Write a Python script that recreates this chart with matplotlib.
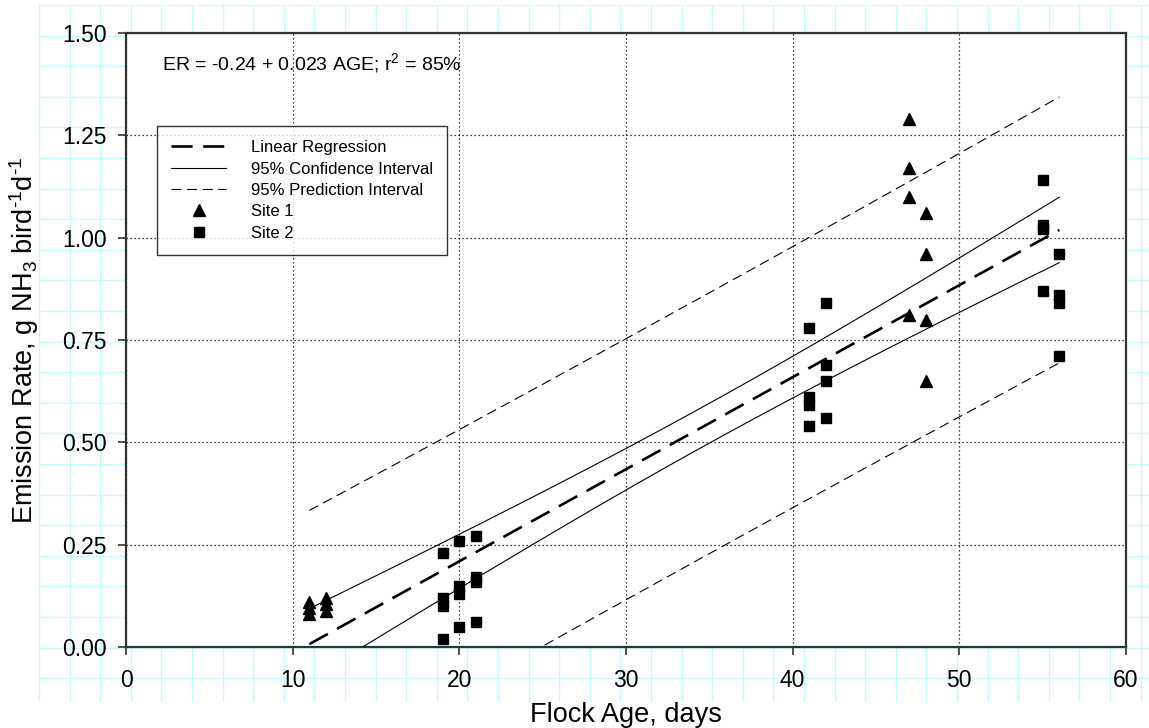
import numpy as np
import matplotlib
matplotlib.use('Agg')
import matplotlib.pyplot as plt

plt.rcParams['font.family'] = ['Liberation Sans', 'DejaVu Sans']
plt.rcParams['mathtext.fontset'] = 'custom'
plt.rcParams['mathtext.rm'] = 'Liberation Sans'
plt.rcParams['mathtext.it'] = 'Liberation Sans:italic'
plt.rcParams['mathtext.bf'] = 'Liberation Sans:bold'

# Site 1 (triangles): flock age, emission rate
site1_age = [11, 11, 11, 12, 12, 12,
             47, 47, 47, 47, 48, 48, 48, 48]
site1_er = [0.081, 0.095, 0.110, 0.088, 0.105, 0.120,
            1.29, 1.17, 1.10, 0.81, 1.06, 0.96, 0.80, 0.65]

# Site 2 (squares)
site2_age = [19, 19, 19, 19, 20, 20, 20, 20, 21, 21, 21, 21,
             41, 41, 41, 41, 42, 42, 42, 42,
             55, 55, 55, 55, 56, 56, 56, 56]
site2_er = [0.23, 0.12, 0.10, 0.02, 0.26, 0.15, 0.13, 0.05, 0.27, 0.17, 0.16, 0.06,
            0.78, 0.61, 0.59, 0.54, 0.84, 0.69, 0.65, 0.56,
            1.14, 1.03, 1.02, 0.87, 0.96, 0.86, 0.84, 0.71]

x_ticks = [0, 10, 20, 30, 40, 50, 60]
y_ticks = [0.00, 0.25, 0.50, 0.75, 1.00, 1.25, 1.50]

# regression with 95% confidence / prediction bands, computed from the points
x_all = np.array(site1_age + site2_age, dtype=float)
y_all = np.array(site1_er + site2_er)
n = len(x_all)
b1, b0 = np.polyfit(x_all, y_all, 1)
s = np.sqrt(np.sum((y_all - (b0 + b1 * x_all)) ** 2) / (n - 2))
xbar = x_all.mean()
sxx = np.sum((x_all - xbar) ** 2)
t_val = 2.021
xs = np.linspace(x_all.min(), x_all.max(), 200)
fit = b0 + b1 * xs
ci = t_val * s * np.sqrt(1.0 / n + (xs - xbar) ** 2 / sxx)
pi = t_val * s * np.sqrt(1.0 + 1.0 / n + (xs - xbar) ** 2 / sxx)

W, H = 1149, 728
fig = plt.figure(figsize=(W / 100, H / 100), dpi=100)

# page grid behind everything (light cyan)
bg = fig.add_axes([39 / W, 1 - 702 / H, (W - 39) / W, (702 - 5) / H], zorder=0)
bg.set_xlim(0, W - 39)
bg.set_ylim(702 - 5, 0)
bg.set_xticks(np.arange(0, W - 39 + 1, 30.6))
bg.set_yticks(np.arange(0, 702 - 5 + 1, 30.6))
bg.grid(True, color='#c4fafa', linewidth=1.0)
bg.tick_params(length=0, labelbottom=False, labelleft=False)
for sp in bg.spines.values():
    sp.set_visible(False)
bg.patch.set_alpha(0)

ax = fig.add_axes([126 / W, 1 - 647 / H, 1000 / W, 614 / H], zorder=1)
ax.set_facecolor('white')

ax.plot(xs, fit, color='black', linewidth=1.9, dashes=(8, 4), label='Linear Regression', zorder=3)
ax.plot(xs, fit + ci, color='black', linewidth=0.8, label='95% Confidence Interval', zorder=3)
ax.plot(xs, fit - ci, color='black', linewidth=0.8, zorder=3)
ax.plot(xs, fit + pi, color='black', linewidth=0.8, dashes=(9, 5), label='95% Prediction Interval', zorder=3)
ax.plot(xs, fit - pi, color='black', linewidth=0.8, dashes=(9, 5), zorder=3)
ax.plot(site1_age, site1_er, linestyle='none', marker='^', markersize=8.5,
        color='black', label='Site 1', zorder=4)
ax.plot(site2_age, site2_er, linestyle='none', marker='s', markersize=7.3,
        color='black', label='Site 2', zorder=4)

ax.set_xlim(0, 60)
ax.set_ylim(0, 1.5)
ax.set_xticks(x_ticks)
ax.set_yticks(y_ticks)
ax.set_yticklabels(['%.2f' % v for v in y_ticks])
ax.tick_params(axis='both', direction='out', length=6, width=1.2, labelsize=16.5,
               color='#333333', top=False, right=False)
ax.tick_params(axis='x', pad=10)
ax.tick_params(axis='y', pad=8)
ax.grid(True, color='black', linestyle=(0, (1, 2.2)), linewidth=0.9, zorder=1)
ax.set_axisbelow(True)
for sp in ax.spines.values():
    sp.set_color('#333333')
    sp.set_linewidth(1.6)

ax.set_xlabel('Flock Age, days', fontsize=19.5, labelpad=7)
ax.set_ylabel(r'Emission Rate, g NH$_3$ bird$^{\text{-1}}$d$^{\text{-1}}$', fontsize=19.5, labelpad=15)

ax.text(0.036, 0.94, r'ER = -0.24 + 0.023 AGE; r$^2$ = 85%', transform=ax.transAxes,
        fontsize=14, va='baseline', ha='left')

leg = ax.legend(loc='upper left', bbox_to_anchor=(0.031, 0.8485), borderaxespad=0,
                fontsize=12, frameon=True, fancybox=False, edgecolor='black',
                handlelength=3.3, handletextpad=1.5, labelspacing=0.38, borderpad=0.85)
leg.get_frame().set_linewidth(1.0)
leg.set_zorder(5)

fig.savefig('out.png', dpi=100)
